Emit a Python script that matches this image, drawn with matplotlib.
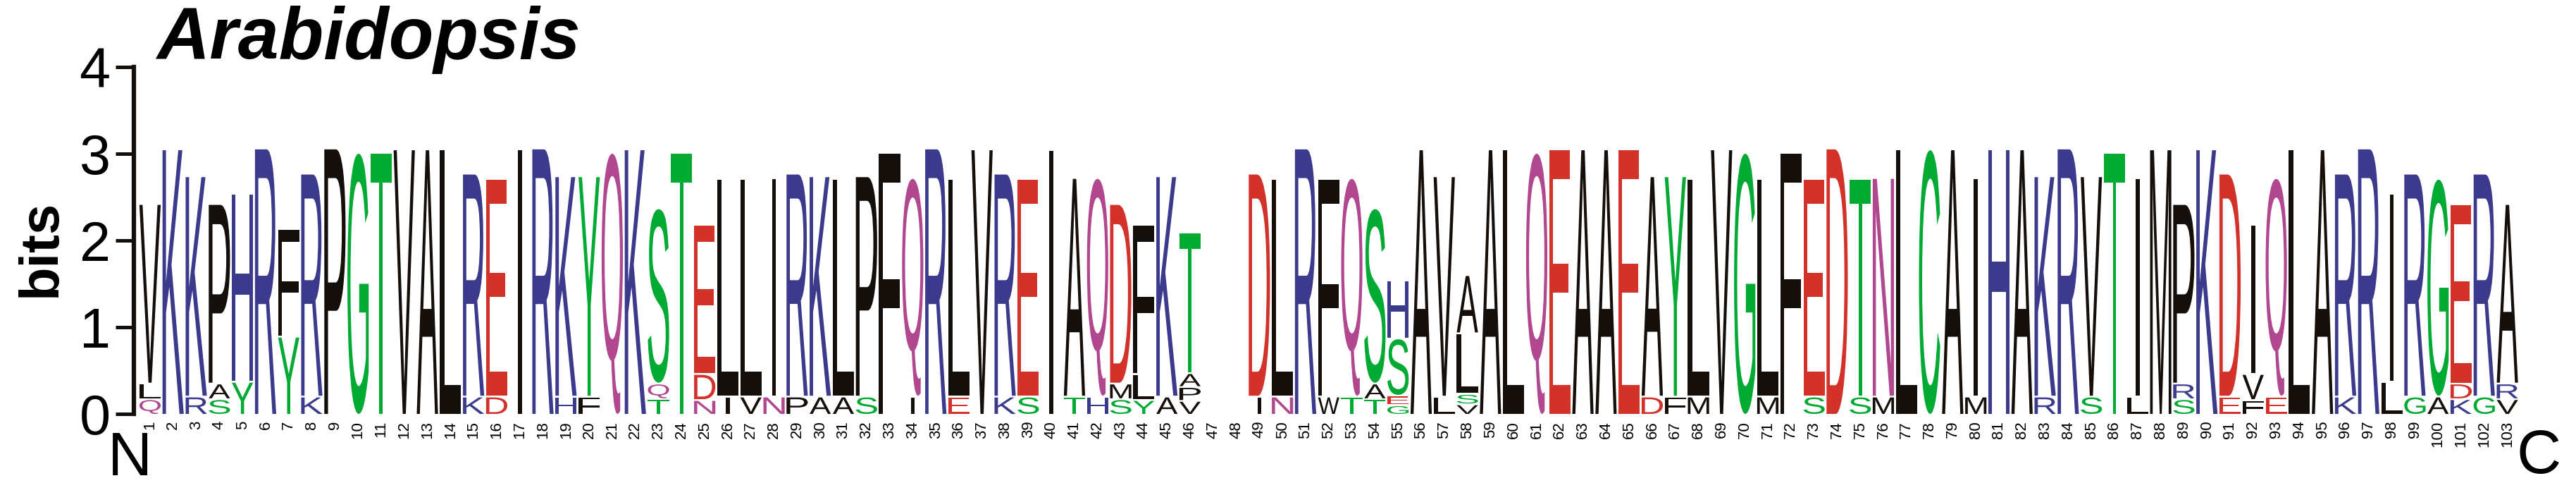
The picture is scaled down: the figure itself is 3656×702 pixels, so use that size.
import matplotlib
matplotlib.use('Agg')
import matplotlib.pyplot as plt
from matplotlib.textpath import TextPath
from matplotlib.patches import PathPatch
from matplotlib.font_manager import FontProperties
from matplotlib.transforms import Affine2D

# residues at each position, bottom -> top
stack_letters = ["QLV", "K", "RK", "SAP", "YH", "R", "YF", "KR", "P", "G",
                 "T", "V", "A", "L", "KR", "DE", "I", "R", "HK", "FY",
                 "Q", "K", "TQS", "T", "NDE", "IL", "VL", "NI", "PR", "AK",
                 "AL", "SP", "F", "IQ", "R", "EL", "V", "KR", "SE", "I",
                 "TA", "HQ", "SMD", "YLF", "AK", "VPAT", "", "", "ID", "NL",
                 "R", "WF", "TQ", "TAS", "GESH", "A", "LV", "VSLA", "A", "L",
                 "Q", "E", "A", "A", "E", "DA", "FY", "ML", "V", "G",
                 "ML", "F", "SE", "D", "ST", "MN", "L", "C", "A", "MI",
                 "H", "A", "RK", "R", "SV", "T", "LI", "M", "SRP", "K",
                 "ED", "FVI", "EQ", "L", "A", "KR", "R", "LI", "GR", "AG",
                 "KDE", "GR", "VRA"]

# letter heights in bits, same order
stack_heights = [
    [0.16, 0.16, 2.05], [3.04], [0.19, 2.52], [0.16, 0.16, 2.05], [0.36, 2.15],
    [3.05], [0.88, 1.22], [0.19, 2.55], [3.05], [3.0],
    [3.0], [3.04], [3.04], [3.04], [0.19, 2.55],
    [0.19, 2.49], [3.04], [3.05], [0.19, 2.52], [0.19, 2.52],
    [3.0], [3.04], [0.16, 0.16, 2.0], [3.0], [0.15, 0.28, 1.7],
    [0.19, 2.49], [0.19, 2.49], [0.19, 2.5], [0.19, 2.55], [0.19, 2.52],
    [0.19, 2.49], [0.19, 2.52], [3.0], [0.19, 2.5], [3.05],
    [0.19, 2.49], [3.04], [0.19, 2.55], [0.19, 2.49], [3.03],
    [0.19, 2.5], [0.19, 2.5], [0.16, 0.16, 2.05], [0.15, 0.28, 1.7], [0.19, 2.52],
    [0.14, 0.14, 0.14, 1.6], [], [], [0.19, 2.55], [0.19, 2.49],
    [3.05], [0.19, 2.49], [0.19, 2.5], [0.16, 0.16, 2.0], [0.09, 0.09, 0.64, 0.65],
    [3.04], [0.19, 2.52], [0.1, 0.1, 0.68, 0.65], [3.04], [3.04],
    [3.0], [3.04], [3.04], [3.04], [3.04],
    [0.19, 2.52], [0.19, 2.52], [0.19, 2.49], [3.04], [3.0],
    [0.19, 2.49], [3.0], [0.19, 2.49], [3.05], [0.19, 2.49],
    [0.19, 2.5], [3.04], [3.04], [3.04], [0.19, 2.5],
    [3.04], [3.04], [0.19, 2.52], [3.05], [0.19, 2.52],
    [3.0], [0.19, 2.5], [3.04], [0.16, 0.16, 2.05], [3.04],
    [0.19, 2.55], [0.15, 0.28, 1.7], [0.19, 2.5], [3.04], [3.04],
    [0.19, 2.55], [3.05], [0.36, 2.15], [0.19, 2.55], [0.19, 2.49],
    [0.16, 0.16, 2.05], [0.19, 2.55], [0.16, 0.16, 2.05]]

positions = list(range(1, len(stack_letters) + 1))
yticks = [0, 1, 2, 3, 4]

colors = {}
for c in "KRH":
    colors[c] = '#3b3a8c'
for c in "GSTYC":
    colors[c] = '#00aa33'
for c in "DE":
    colors[c] = '#d3322a'
for c in "QN":
    colors[c] = '#b0478f'
for c in "AVLIPFMW":
    colors[c] = '#150f0b'

fp = FontProperties(family='Liberation Sans')


def draw_letter(ax, ch, x, y, w, h, color):
    tp = TextPath((0, 0), ch, size=1, prop=fp)
    bb = tp.get_extents()
    if ch == 'I':
        w = 0.17
    t = Affine2D().translate(-bb.x0, -bb.y0).scale(w / bb.width, h / bb.height).translate(x - w / 2, y)
    ax.add_patch(PathPatch(t.transform_path(tp), fc=color, ec='none', lw=0))


fig = plt.figure(figsize=(36.56, 7.02), dpi=100)
ax = fig.add_axes([190 / 3656, 115 / 702, (3575 - 190) / 3656, 492 / 702])

gap = 0.02
for pos, letters, heights in zip(positions, stack_letters, stack_heights):
    y = 0
    for ch, h in zip(letters, heights):
        draw_letter(ax, ch, pos, y, 0.92, h, colors[ch])
        y += h + gap
    ax.text(pos, -0.08, str(pos), rotation=90, ha='center', va='top',
            fontsize=16, family='Liberation Sans')

ax.set_xlim(0.30, 103.5)
ax.set_ylim(0, 4)
for s in ['top', 'right', 'bottom']:
    ax.spines[s].set_visible(False)
ax.spines['left'].set_linewidth(4.5)
ax.spines['left'].set_color('#150f0b')
ax.set_xticks([])
ax.set_yticks(yticks)
ax.set_yticklabels([str(v) for v in yticks], fontsize=57, family='Liberation Sans')
ax.tick_params(axis='y', length=19, width=3.6, pad=5, color='#150f0b')

fig.text(58 / 3656, 1 - 352 / 702, 'bits', rotation=90, ha='center', va='center',
         fontsize=56, fontweight='bold', family='Liberation Sans')
fig.text(222 / 3656, 1 - 8 / 702, 'Arabidopsis', ha='left', va='top',
         fontsize=75, fontweight='bold', fontstyle='italic', family='Liberation Sans')
fig.text(184 / 3656, 1 - 652 / 702, 'N', ha='center', va='center',
         fontsize=63, family='Liberation Sans')
fig.text(3603 / 3656, 1 - 649 / 702, 'C', ha='center', va='center',
         fontsize=63, family='Liberation Sans')

fig.savefig('out.png', dpi=100)
